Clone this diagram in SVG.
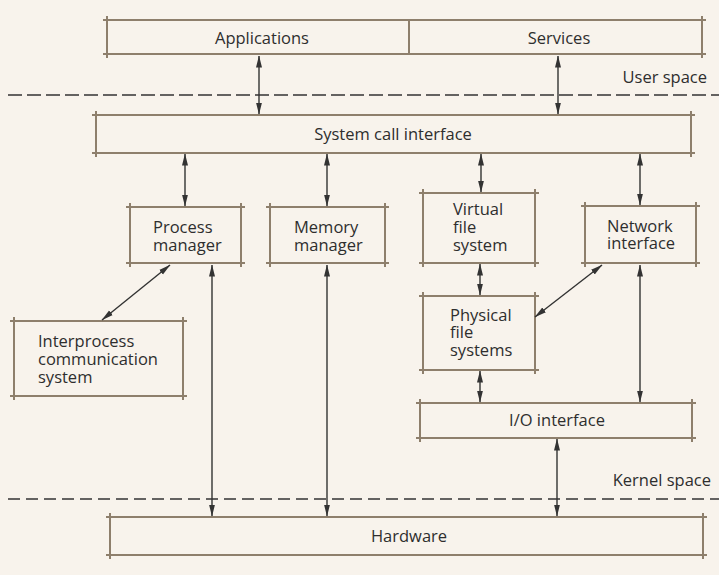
<svg xmlns="http://www.w3.org/2000/svg" width="719" height="575" viewBox="0 0 719 575">
<style>
.bx{fill:none;stroke:#8e7f6c;stroke-width:2}
.t{font-family:"Open Sans","Noto Sans",sans-serif;font-size:16.5px;fill:#2e2e2e}
.c{text-anchor:middle}
.ar{stroke:#333;stroke-width:1.4;fill:none;marker-start:url(#ah);marker-end:url(#ah)}
.dl{stroke:#333;stroke-width:1.3;fill:none}
</style>
<defs>
<marker id="ah" viewBox="0 0 12 8" refX="11.5" refY="4" markerWidth="12" markerHeight="8" markerUnits="userSpaceOnUse" orient="auto-start-reverse">
<path d="M0,1 L12,4 L0,7 Z" fill="#333"/>
</marker>
</defs>
<rect width="719" height="575" fill="#f8f3ec"/>
<g id="separators">
<path class="dl" d="M8 95 H719" stroke-dasharray="14 5"/>
<path class="dl" d="M8 499 H719" stroke-dasharray="12 6"/>
<text class="t" x="707" y="83" text-anchor="end">User space</text>
<text class="t" x="711" y="486" text-anchor="end">Kernel space</text>
</g>
<g id="applications-services">
<path class="bx" d="M103 20H706M103 54H706M107 16V58M702 16V58M409 20V54"/>
<text class="t c" x="262" y="44">Applications</text>
<text class="t c" x="559" y="44">Services</text>
</g>
<g id="syscall">
<path class="bx" d="M92 115H695M92 153H695M96 111V157M691 111V157"/>
<text class="t c" x="393" y="140">System call interface</text>
</g>
<g id="process">
<path class="bx" d="M126 207H245M126 263H245M130 203V267M241 203V267"/>
<text class="t" x="153" y="233">Process</text>
<text class="t" x="153" y="251">manager</text>
</g>
<g id="memory">
<path class="bx" d="M266 207H389M266 263H389M270 203V267M385 203V267"/>
<text class="t" x="294" y="233">Memory</text>
<text class="t" x="294" y="251">manager</text>
</g>
<g id="vfs">
<path class="bx" d="M419 193H539M419 263H539M423 189V267M535 189V267"/>
<text class="t" x="453" y="215">Virtual</text>
<text class="t" x="453" y="233">file</text>
<text class="t" x="453" y="251">system</text>
</g>
<g id="network">
<path class="bx" d="M581 206H700M581 263H700M585 202V267M696 202V267"/>
<text class="t" x="607" y="232">Network</text>
<text class="t" x="607" y="249">interface</text>
</g>
<g id="ipc">
<path class="bx" d="M10 321H187M10 396H187M14 317V400M183 317V400"/>
<text class="t" x="38" y="347">Interprocess</text>
<text class="t" x="38" y="365">communication</text>
<text class="t" x="38" y="383">system</text>
</g>
<g id="pfs">
<path class="bx" d="M419 296H539M419 370H539M423 292V374M535 292V374"/>
<text class="t" x="450" y="321">Physical</text>
<text class="t" x="450" y="338">file</text>
<text class="t" x="450" y="356">systems</text>
</g>
<g id="io">
<path class="bx" d="M416 403H696M416 438H696M420 399V442M692 399V442"/>
<text class="t c" x="557" y="426">I/O interface</text>
</g>
<g id="hardware">
<path class="bx" d="M106 517H707M106 555H707M110 513V559M703 513V559"/>
<text class="t c" x="409" y="542">Hardware</text>
</g>
<g id="connectors">
<path class="ar" d="M259 56V114"/>
<path class="ar" d="M558 56V114"/>
<path class="ar" d="M185 154V206"/>
<path class="ar" d="M327 154V206"/>
<path class="ar" d="M481 154V192"/>
<path class="ar" d="M640 154V205"/>
<path class="ar" d="M170 265L102 320"/>
<path class="ar" d="M212 265V516"/>
<path class="ar" d="M327 265V516"/>
<path class="ar" d="M480 264V295"/>
<path class="ar" d="M602 265L535 317"/>
<path class="ar" d="M480 371V402"/>
<path class="ar" d="M640 265V402"/>
<path class="ar" d="M557 439V516"/>
</g>
</svg>
